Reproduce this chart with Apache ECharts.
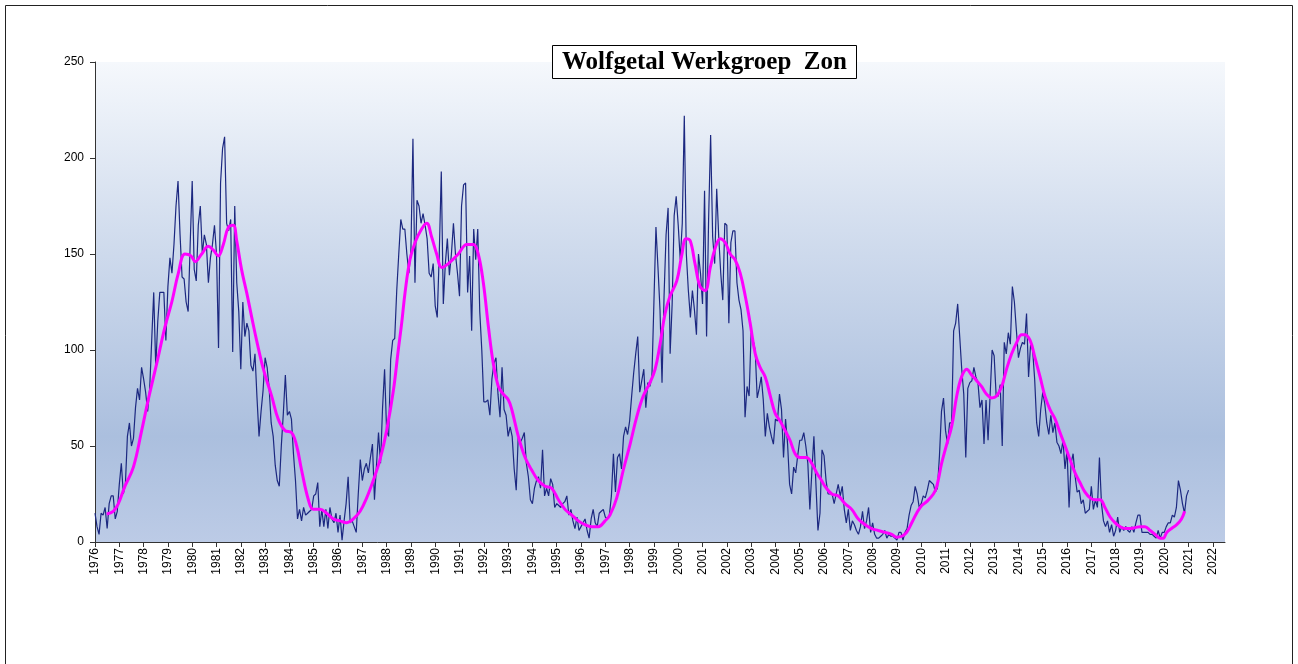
<!DOCTYPE html>
<html>
<head>
<meta charset="utf-8">
<title>Wolfgetal Werkgroep Zon</title>
<script src="https://cdn.jsdelivr.net/npm/echarts@6/dist/echarts.min.js"></script>
<style>
  html, body { margin: 0; padding: 0; background: #fff; }
  #chart { width: 1298px; height: 664px; }
</style>
</head>
<body>
<div id="chart"></div>
<script>
// maandelijkse wolfgetallen, vanaf januari 1976
const startYear = 1976
const monthlyWolf = [
  15, 8, 4, 15, 14, 18, 7, 20, 24, 24, 12, 16,            // 1976
  30, 41, 25, 30, 55, 62, 50, 54, 70, 80, 74, 91,          // 1977
  85, 78, 68, 80, 105, 130, 91, 115, 130, 130, 130, 105,   // 1978
  133, 148, 140, 155, 175, 188, 160, 138, 137, 125, 120, 155, // 1979
  188, 142, 136, 165, 175, 150, 160, 155, 135, 148, 155, 165, // 1980
  150, 101, 187, 205, 211, 166, 162, 168, 99, 175, 135, 120,  // 1981
  90, 125, 107, 114, 110, 92, 89, 98, 75, 55, 68, 79,      // 1982
  96, 91, 80, 62, 55, 40, 32, 29, 50, 67, 87, 66,          // 1983
  68, 64, 46, 32, 12, 17, 11, 18, 14, 15, 16, 17,          // 1984
  24, 25, 31, 8, 17, 8, 17, 7, 18, 12, 10, 15,             // 1985
  5, 14, 1, 11, 20, 34, 10, 11, 8, 5, 25, 43,              // 1986
  32, 38, 41, 36, 44, 51, 22, 40, 57, 41, 70, 90,          // 1987
  58, 55, 95, 105, 106, 131, 150, 168, 163, 163, 150, 140, // 1988
  152, 210, 135, 178, 175, 166, 171, 165, 158, 140, 138, 145, // 1989
  123, 117, 150, 193, 124, 145, 158, 139, 150, 166, 150, 140, // 1990
  128, 175, 186, 187, 130, 149, 110, 163, 147, 163, 120, 100, // 1991
  73, 73, 74, 66, 85, 93, 96, 77, 65, 91, 69, 66,          // 1992
  55, 60, 55, 38, 27, 55, 52, 54, 57, 41, 34, 22,          // 1993
  20, 28, 32, 34, 28, 48, 24, 28, 24, 33, 30, 18,          // 1994
  20, 19, 18, 20, 21, 24, 14, 17, 11, 7, 13, 6,            // 1995
  8, 10, 12, 6, 2, 12, 17, 10, 8, 15, 16, 17,              // 1996
  13, 12, 14, 24, 46, 26, 44, 46, 38, 55, 60, 56,          // 1997
  63, 76, 88, 98, 107, 78, 84, 90, 70, 83, 81, 86,         // 1998
  125, 164, 143, 121, 83, 128, 160, 174, 98, 124, 170, 180, // 1999
  165, 147, 166, 222, 150, 131, 117, 131, 121, 108, 150, 140, // 2000
  124, 183, 107, 168, 212, 159, 145, 184, 159, 140, 126, 166, // 2001
  165, 114, 156, 162, 162, 135, 126, 121, 110, 65, 81, 76, // 2002
  109, 105, 100, 75, 80, 86, 74, 55, 67, 60, 55, 51,       // 2003
  64, 63, 77, 69, 44, 64, 51, 30, 25, 39, 36, 45,          // 2004
  53, 53, 57, 50, 41, 17, 37, 55, 30, 6, 15, 48,           // 2005
  45, 32, 25, 25, 25, 20, 25, 30, 24, 29, 17, 10,          // 2006
  17, 6, 11, 9, 6, 4, 8, 16, 7, 11, 18, 5,                 // 2007
  10, 4, 2, 2, 3, 4, 6, 2, 4, 3, 3, 2,                     // 2008
  1, 5, 5, 1, 5, 7, 14, 19, 21, 29, 25, 18,                // 2009
  20, 24, 23, 27, 32, 31, 30, 26, 28, 45, 68, 75,          // 2010
  58, 51, 62, 62, 110, 114, 124, 107, 90, 77, 44, 80,      // 2011
  83, 84, 91, 86, 83, 70, 74, 51, 74, 53, 76, 100,         // 2012
  97, 76, 76, 82, 50, 104, 98, 109, 103, 133, 125, 110,    // 2013
  96, 101, 104, 103, 119, 86, 103, 100, 85, 62, 55, 69,    // 2014
  78, 72, 62, 56, 66, 57, 62, 52, 50, 46, 53, 38,          // 2015
  48, 18, 41, 46, 34, 26, 27, 20, 22, 15, 16, 17,          // 2016
  29, 17, 22, 18, 44, 20, 11, 8, 11, 5, 9, 3,              // 2017
  6, 13, 5, 8, 6, 8, 6, 5, 8, 5, 10, 14,                   // 2018
  14, 5, 5, 5, 5, 4, 4, 3, 2, 6, 2, 5,                     // 2019
  5, 8, 10, 10, 14, 13, 18, 32, 27, 20, 15, 24,            // 2020
  27                                                       // 2021
]

const smoothYears = [
  1976.48, 1976.75, 1976.96, 1977.23, 1977.58, 1977.92, 1978.19, 1978.54, 1978.88, 1979.16,
  1979.43, 1979.70, 1979.95, 1980.12, 1980.39, 1980.66, 1980.87, 1981.07, 1981.28, 1981.49,
  1981.69, 1981.83, 1982.03, 1982.24, 1982.45, 1982.65, 1982.93, 1983.27, 1983.54, 1983.82,
  1984.09, 1984.30, 1984.50, 1984.78, 1984.98, 1985.26, 1985.53, 1985.81, 1986.08, 1986.36,
  1986.63, 1986.91, 1987.18, 1987.45, 1987.73, 1988.00, 1988.28, 1988.48, 1988.62, 1988.76,
  1988.96, 1989.17, 1989.44, 1989.65, 1989.85, 1990.06, 1990.27, 1990.54, 1990.95, 1991.30,
  1991.57, 1991.77, 1991.98, 1992.19, 1992.39, 1992.60, 1992.80, 1993.01, 1993.15, 1993.42,
  1993.70, 1993.97, 1994.24, 1994.52, 1994.79, 1995.07, 1995.34, 1995.62, 1995.89, 1996.16,
  1996.44, 1996.71, 1996.99, 1997.19, 1997.47, 1997.74, 1998.02, 1998.29, 1998.56, 1998.84,
  1999.05, 1999.25, 1999.46, 1999.66, 1999.94, 2000.14, 2000.32, 2000.49, 2000.69, 2000.90,
  2001.11, 2001.32, 2001.52, 2001.73, 2001.93, 2002.14, 2002.34, 2002.55, 2002.76, 2002.96,
  2003.17, 2003.37, 2003.58, 2003.79, 2003.99, 2004.19, 2004.40, 2004.60, 2004.81, 2005.01,
  2005.28, 2005.49, 2005.70, 2005.90, 2006.04, 2006.32, 2006.59, 2006.86, 2007.14, 2007.41,
  2007.69, 2007.96, 2008.23, 2008.51, 2008.79, 2008.99, 2009.20, 2009.40, 2009.61, 2009.81,
  2010.02, 2010.22, 2010.50, 2010.64, 2010.84, 2011.05, 2011.25, 2011.46, 2011.66, 2011.87,
  2012.07, 2012.28, 2012.48, 2012.69, 2012.90, 2013.10, 2013.31, 2013.51, 2013.72, 2013.93,
  2014.13, 2014.27, 2014.48, 2014.68, 2014.89, 2015.09, 2015.30, 2015.51, 2015.71, 2015.92,
  2016.12, 2016.33, 2016.53, 2016.74, 2016.95, 2017.15, 2017.36, 2017.56, 2017.77, 2017.98,
  2018.18, 2018.39, 2018.60, 2018.81, 2019.00, 2019.21, 2019.42, 2019.62, 2019.83, 2019.96,
  2020.10, 2020.30, 2020.51, 2020.71, 2020.84
]
const smoothValues = [
  14.6, 16, 20, 29, 39, 58, 74, 93, 112, 125,
  140, 150, 149, 146, 150, 154, 152, 149, 155, 164,
  165, 157, 142, 130, 117, 105, 90, 76, 64, 58,
  57, 50, 37.5, 22, 17, 17, 15, 12, 11, 10,
  12, 16, 23, 32, 43, 58, 79, 100, 114, 130,
  147, 156, 163, 166, 159, 150, 143, 145, 150, 155,
  155, 150, 135, 112, 93, 81, 77, 74, 69, 55,
  44, 37.5, 32, 29, 28, 22, 17, 14, 11, 9,
  8, 8, 11, 14, 23, 37.5, 51, 65, 76, 83,
  90, 103, 119, 128, 136, 149, 158, 157, 145, 133,
  131, 143, 153, 158, 156, 150, 147, 140, 128, 114,
  98, 91, 86, 76, 67, 63, 58, 53, 46, 44,
  44, 41, 36, 32, 29, 25, 24, 20, 17, 12,
  9, 7, 6, 5, 4, 2.5, 3, 5, 10, 15,
  19, 21, 25, 29, 41, 51, 60, 76, 86, 90,
  87, 84, 81, 77, 75, 76, 81, 90, 98, 104,
  108, 108, 105, 96, 86, 76, 69, 64, 57, 50,
  43, 36, 31, 26, 23, 22, 22, 18, 13, 10,
  8, 7, 7, 7.5, 8, 8, 6, 4, 2, 2,
  5, 7, 9, 12, 16
]

const yearTicks = [
  1976, 1977, 1978, 1979, 1980, 1981, 1982, 1983, 1984, 1985, 1986, 1987,
  1988, 1989, 1990, 1991, 1992, 1993, 1994, 1995, 1996, 1997, 1998, 1999,
  2000, 2001, 2002, 2003, 2004, 2005, 2006, 2007, 2008, 2009, 2010, 2011,
  2012, 2013, 2014, 2015, 2016, 2017, 2018, 2019, 2020, 2021, 2022
]
const valueTicks = [0, 50, 100, 150, 200, 250]

const rawData = monthlyWolf.map((v, i) => [startYear + i / 12, v])
const smoothData = smoothYears.map((y, i) => [y, smoothValues[i]])

const chart = echarts.init(document.getElementById('chart'), null, { renderer: 'canvas' })

const option = {
  backgroundColor: '#ffffff',
  animation: false,
  title: {
    text: 'Wolfgetal Werkgroep  Zon',
    left: 552,
    top: 45,
    padding: [5, 10, 4, 10],
    backgroundColor: '#ffffff',
    borderColor: '#000000',
    borderWidth: 1,
    textStyle: {
      fontFamily: 'Liberation Serif',
      fontSize: 25,
      fontWeight: 'bold',
      color: '#000000',
      lineHeight: 25
    }
  },
  graphic: [
    {
      type: 'rect',
      silent: true,
      shape: { x: 5.5, y: 5.5, width: 1287, height: 720 },
      style: { fill: 'none', stroke: '#222222', lineWidth: 1 }
    }
  ],
  grid: {
    left: 95,
    right: 73,
    top: 62,
    bottom: 122,
    show: true,
    borderWidth: 0,
    backgroundColor: new echarts.graphic.LinearGradient(0, 0, 0, 1, [
      { offset: 0, color: '#f5f8fc' },
      { offset: 0.35, color: '#d2ddee' },
      { offset: 0.78, color: '#abbfde' },
      { offset: 1, color: '#bccbe6' }
    ])
  },
  xAxis: {
    type: 'value',
    min: 1976,
    max: 2022.5,
    axisLine: { show: true, onZero: false, lineStyle: { color: '#333333', width: 1 } },
    axisTick: { show: true, length: 5, customValues: yearTicks, lineStyle: { color: '#333333' } },
    axisLabel: {
      customValues: yearTicks,
      rotate: 90,
      margin: 6,
      fontFamily: 'Liberation Sans',
      fontSize: 12,
      color: '#000000',
      formatter: (v) => String(v)
    },
    splitLine: { show: false }
  },
  yAxis: {
    type: 'value',
    min: 0,
    max: 250,
    interval: 50,
    axisLine: { show: true, lineStyle: { color: '#333333', width: 1 } },
    axisTick: { show: true, length: 5, customValues: valueTicks, lineStyle: { color: '#333333' } },
    axisLabel: {
      customValues: valueTicks,
      margin: 11,
      fontFamily: 'Liberation Sans',
      fontSize: 12,
      color: '#000000'
    },
    splitLine: { show: false }
  },
  series: [
    {
      name: 'Wolfgetal',
      type: 'line',
      data: rawData,
      showSymbol: false,
      lineStyle: { color: '#1c2880', width: 1.2 },
      z: 2
    },
    {
      name: 'Afgevlakt',
      type: 'line',
      data: smoothData,
      showSymbol: false,
      smooth: 0.4,
      lineStyle: { color: '#ff00ff', width: 3 },
      z: 3
    }
  ]
}

chart.setOption(option)
</script>
</body>
</html>
